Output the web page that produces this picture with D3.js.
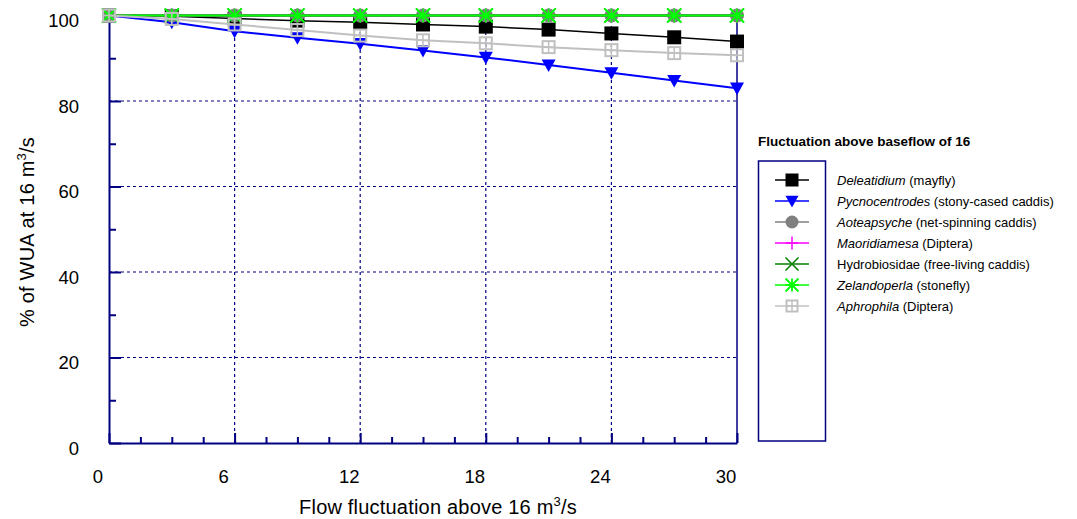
<!DOCTYPE html>
<meta charset="utf-8">
<style>
body { margin: 0; background: #fff; }
text { font-family: Arial, "Liberation Sans", sans-serif; }
</style>
<svg width="1077" height="519"></svg>
<script src="https://cdn.jsdelivr.net/npm/d3@7"></script>
<script>

// flow fluctuation above 16 m3/s
var flows = [0, 3, 6, 9, 12, 15, 18, 21, 24, 27, 30];

var deleatidium    = [100, 99.8, 99.3, 98.8, 98.4, 97.9, 97.4, 96.7, 95.8, 94.9, 93.9];
var pycnocentrodes = [100, 98.4, 96.3, 94.8, 93.4, 91.8, 90.2, 88.4, 86.6, 84.8, 83.0];
var aoteapsyche    = [100, 100, 100, 100, 100, 100, 100, 100, 100, 100, 100];
var maoridiamesa   = [100, 100, 100, 100, 100, 100, 100, 100, 100, 100, 100];
var hydrobiosidae  = [100, 100, 100, 100, 100, 100, 100, 100, 100, 100, 100];
var zelandoperla   = [100, 100, 100, 100, 100, 100, 100, 100, 100, 100, 100];
var aphrophila     = [100, 99.2, 97.9, 96.6, 95.3, 94.2, 93.5, 92.6, 91.9, 91.2, 90.7];

var xTicks = [0, 6, 12, 18, 24, 30];
var yTicks = [0, 20, 40, 60, 80, 100];

var series = [
  {genus: "Deleatidium", rest: " (mayfly)", italic: true, values: deleatidium, color: "#000000", marker: "square", lw: 1.5},
  {genus: "Pycnocentrodes", rest: " (stony-cased caddis)", italic: true, values: pycnocentrodes, color: "#0000ff", marker: "triangle", lw: 2},
  {genus: "Aoteapsyche", rest: " (net-spinning caddis)", italic: true, values: aoteapsyche, color: "#808080", marker: "circle", lw: 2},
  {genus: "Maoridiamesa", rest: " (Diptera)", italic: true, values: maoridiamesa, color: "#ff00ff", marker: "plus", lw: 2},
  {genus: "Hydrobiosidae", rest: " (free-living caddis)", italic: false, values: hydrobiosidae, color: "#008000", marker: "cross", lw: 2},
  {genus: "Zelandoperla", rest: " (stonefly)", italic: true, values: zelandoperla, color: "#00ff00", marker: "asterisk", lw: 2},
  {genus: "Aphrophila", rest: " (Diptera)", italic: true, values: aphrophila, color: "#c0c0c0", marker: "boxgrid", lw: 2}
];

var svg = d3.select("svg");
var navy = "#000080";

var x = d3.scaleLinear().domain([0, 30]).range([109, 737]);
var y = d3.scaleLinear().domain([0, 100]).range([443, 15.5]);

// gridlines
var grid = svg.append("g");
grid.selectAll("line.vg")
  .data([6, 12, 18, 24])
  .enter().append("line")
    .attr("x1", function(d) { return x(d); })
    .attr("x2", function(d) { return x(d); })
    .attr("y1", y(0)).attr("y2", y(100))
    .attr("stroke", navy).attr("stroke-width", 1.2)
    .attr("stroke-dasharray", "3,3");
grid.selectAll("line.hg")
  .data([20, 40, 60, 80])
  .enter().append("line")
    .attr("y1", function(d) { return y(d); })
    .attr("y2", function(d) { return y(d); })
    .attr("x1", x(0)).attr("x2", x(30))
    .attr("stroke", navy).attr("stroke-width", 1.2)
    .attr("stroke-dasharray", "3,3");

// right border at 30
svg.append("line")
  .attr("x1", x(30)).attr("x2", x(30))
  .attr("y1", y(0)).attr("y2", y(100))
  .attr("stroke", navy).attr("stroke-width", 1.5);

// axes
var xAxis = d3.axisBottom(x)
  .tickValues(d3.range(0, 30.1, 1.5))
  .tickSizeInner(-6).tickSizeOuter(0)
  .tickFormat("");
var gx = svg.append("g").attr("transform", "translate(0," + y(0) + ")").call(xAxis);
gx.selectAll(".tick line")
  .attr("y2", function(d) { return d % 6 === 0 ? -10 : -6; });

var yAxis = d3.axisLeft(y)
  .tickValues(d3.range(0, 100.1, 10))
  .tickSizeInner(-7).tickSizeOuter(0)
  .tickFormat("");
var gy = svg.append("g").attr("transform", "translate(" + x(0) + ",0)").call(yAxis);
gy.selectAll(".tick line")
  .attr("x2", function(d) { return d % 20 === 0 ? 12 : 7; });

svg.selectAll(".domain").attr("stroke", navy).attr("stroke-width", 2);
svg.selectAll(".tick line").attr("stroke", navy).attr("stroke-width", 2);

// tick labels
svg.append("g").selectAll("text")
  .data(xTicks)
  .enter().append("text")
    .attr("x", function(d) { return x(d) - 11; })
    .attr("y", 483)
    .attr("text-anchor", "middle")
    .attr("font-size", 18.5)
    .text(function(d) { return d; });

svg.append("g").selectAll("text")
  .data(yTicks)
  .enter().append("text")
    .attr("x", 79)
    .attr("y", function(d) { return y(d) + 11.5; })
    .attr("text-anchor", "end")
    .attr("font-size", 18.5)
    .text(function(d) { return d; });

// axis titles
var xt = svg.append("text")
  .attr("x", 438).attr("y", 514)
  .attr("text-anchor", "middle")
  .attr("font-size", 20)
  .attr("letter-spacing", 0.2);
xt.append("tspan").text("Flow fluctuation above 16 m");
xt.append("tspan").attr("font-size", 13).attr("dy", -8).text("3");
xt.append("tspan").attr("dy", 8).text("/s");

var yt = svg.append("text")
  .attr("transform", "translate(34,232) rotate(-90)")
  .attr("text-anchor", "middle")
  .attr("font-size", 20)
  .attr("letter-spacing", 0.2);
yt.append("tspan").text("% of WUA at 16 m");
yt.append("tspan").attr("font-size", 13).attr("dy", -8).text("3");
yt.append("tspan").attr("dy", 8).text("/s");

// marker drawing
function drawMarker(g, type, color, s) {
  var h = s / 2;
  if (type === "square") {
    g.append("rect").attr("x", -h).attr("y", -h).attr("width", s).attr("height", s).attr("fill", color);
  } else if (type === "triangle") {
    g.append("path").attr("d", "M" + (-h) + "," + (-h * 0.8) + "L" + h + "," + (-h * 0.8) + "L0," + (h * 1.0) + "Z").attr("fill", color);
  } else if (type === "circle") {
    g.append("circle").attr("r", h).attr("fill", color);
  } else if (type === "plus") {
    g.append("path").attr("d", "M" + (-h) + ",0H" + h + "M0," + (-h) + "V" + h).attr("stroke", color).attr("stroke-width", 1.5);
  } else if (type === "cross") {
    g.append("path").attr("d", "M" + (-h) + "," + (-h) + "L" + h + "," + h + "M" + (-h) + "," + h + "L" + h + "," + (-h)).attr("stroke", color).attr("stroke-width", 1.5);
  } else if (type === "asterisk") {
    g.append("path").attr("d", "M" + (-h) + "," + (-h) + "L" + h + "," + h + "M" + (-h) + "," + h + "L" + h + "," + (-h) + "M0," + (-h) + "V" + h + "M" + (-h) + ",0H" + h).attr("stroke", color).attr("stroke-width", 1.8);
  } else if (type === "boxgrid") {
    g.append("rect").attr("x", -h + 1).attr("y", -h + 1).attr("width", s - 2).attr("height", s - 2).attr("fill", "none").attr("stroke", color).attr("stroke-width", 2);
    g.append("path").attr("d", "M" + (-h + 1) + ",0H" + (h - 1) + "M0," + (-h + 1) + "V" + (h - 1)).attr("stroke", color).attr("stroke-width", 1.5);
  }
}

var line = d3.line()
  .x(function(d, i) { return x(flows[i]); })
  .y(function(d) { return y(d); });

series.forEach(function(s) {
  var g = svg.append("g");
  g.append("path")
    .datum(s.values)
    .attr("d", line)
    .attr("fill", "none")
    .attr("stroke", s.color)
    .attr("stroke-width", s.lw);
  s.values.forEach(function(v, i) {
    var m = g.append("g").attr("transform", "translate(" + x(flows[i]) + "," + y(v) + ")");
    drawMarker(m, s.marker, s.color, 14);
  });
});

// legend
svg.append("text")
  .attr("x", 758).attr("y", 146)
  .attr("font-size", 13.5).attr("font-weight", "bold")
  .text("Fluctuation above baseflow of 16");

svg.append("rect")
  .attr("x", 758.5).attr("y", 161).attr("width", 67).attr("height", 280)
  .attr("fill", "none").attr("stroke", navy).attr("stroke-width", 1.5);

var legend = svg.append("g").selectAll("g")
  .data(series)
  .enter().append("g")
    .attr("transform", function(d, i) { return "translate(0," + (180 + i * 21) + ")"; });

legend.each(function(s) {
  var g = d3.select(this);
  g.append("line").attr("x1", 775).attr("x2", 809).attr("y1", 0).attr("y2", 0)
    .attr("stroke", s.color).attr("stroke-width", 1.5);
  var m = g.append("g").attr("transform", "translate(792,0)");
  drawMarker(m, s.marker, s.color, 13);
  var t = g.append("text").attr("x", 837).attr("y", 4.5).attr("font-size", 13);
  t.append("tspan").attr("font-style", s.italic ? "italic" : "normal").text(s.genus);
  t.append("tspan").text(s.rest);
});

</script>
